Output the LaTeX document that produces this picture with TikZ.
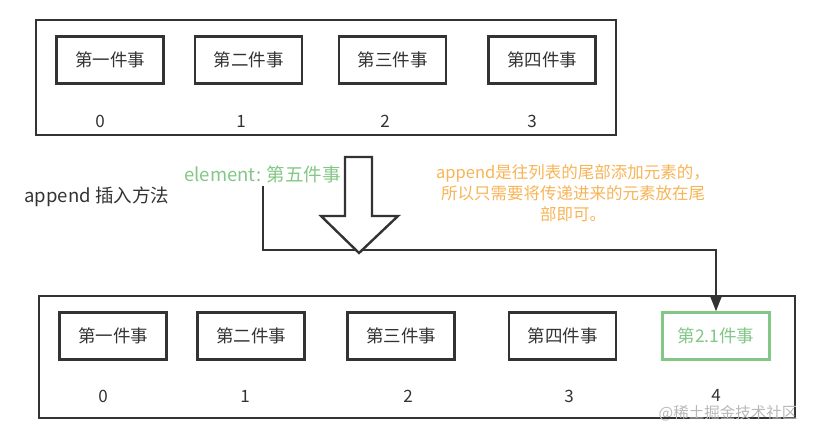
\documentclass[tikz,border=0pt]{standalone}
\usepackage{fontspec}
\setmainfont{Noto Sans CJK SC}
\usetikzlibrary{arrows.meta}
\definecolor{inkgrey}{HTML}{333333}
\definecolor{elemgreen}{HTML}{82C785}
\definecolor{noteorange}{HTML}{F7B457}
\tikzset{every node/.style={font=\fontsize{17.5}{21}\selectfont,text=inkgrey},
  listframe/.style={draw=inkgrey,line width=2pt},
  itembox/.style={draw=inkgrey,fill=white,line width=2.4pt,
    minimum width=107pt,minimum height=47pt,inner sep=0pt},
  newbox/.style={itembox,draw=elemgreen,text=elemgreen},
  idx/.style={font=\fontsize{17}{19}\selectfont},
  conn/.style={draw=inkgrey,line width=2pt},
  bigarrow/.style={draw=inkgrey,fill=white,line width=2.4pt,line join=miter}}
\begin{document}
\begin{tikzpicture}[x=1pt,y=-1pt]
  \path[use as bounding box] (0,0) rectangle (820,438);
  % list before append
  \draw[listframe] (36,20) rectangle (616,135);
  \node[itembox] (t0) at (110,60) {第一件事};
  \node[itembox] (t1) at (248.5,60) {第二件事};
  \node[itembox] (t2) at (392.5,60) {第三件事};
  \node[itembox] (t3) at (542,60) {第四件事};
  \node[idx] (ti0) at (100,121) {0};
  \node[idx] (ti1) at (241,121) {1};
  \node[idx] (ti2) at (385,121) {2};
  \node[idx] (ti3) at (532,121) {3};
  % list after append
  \draw[listframe] (39,296) rectangle (795,418);
  \node[itembox] (b0) at (113,336) {第一件事};
  \node[itembox] (b1) at (251,336) {第二件事};
  \node[itembox] (b2) at (401,336) {第三件事};
  \node[itembox] (b3) at (562.5,336) {第四件事};
  \node[newbox] (b4) at (716,336) {第2.1件事};
  \node[idx] (bi0) at (103,396) {0};
  \node[idx] (bi1) at (245,396) {1};
  \node[idx] (bi2) at (408,396) {2};
  \node[idx] (bi3) at (569,396) {3};
  \node[idx] (bi4) at (716,395) {4};
  % labels
  \node[anchor=west,font=\fontsize{18.5}{21}\selectfont] (method) at (21,197) {append 插入方法};
  \node[text=elemgreen,font=\fontsize{18.5}{21}\selectfont] (elem) at (262.5,174) {element: 第五件事};
  \node[text=noteorange,align=center,font=\fontsize{16.5}{21}\selectfont] (note) at (573,193)
    {append是往列表的尾部添加元素的，\\所以只需要将传递进来的元素放在尾\\部即可。};
  \coordinate (bend) at (263,250);
  \draw[conn,-{Triangle[length=16pt,width=12pt]}]
    (elem.south) -- (elem.south |- bend) -| (b4.north);
  \draw[bigarrow] (345,157) -- (372,157) -- (372,216) -- (398,216)
    -- (359,253) -- (321,216) -- (345,216) -- cycle;
  \node[text=black!28,font=\fontsize{15.5}{18}\selectfont] (mark) at (728,413) {@稀土掘金技术社区};
\end{tikzpicture}
\end{document}
